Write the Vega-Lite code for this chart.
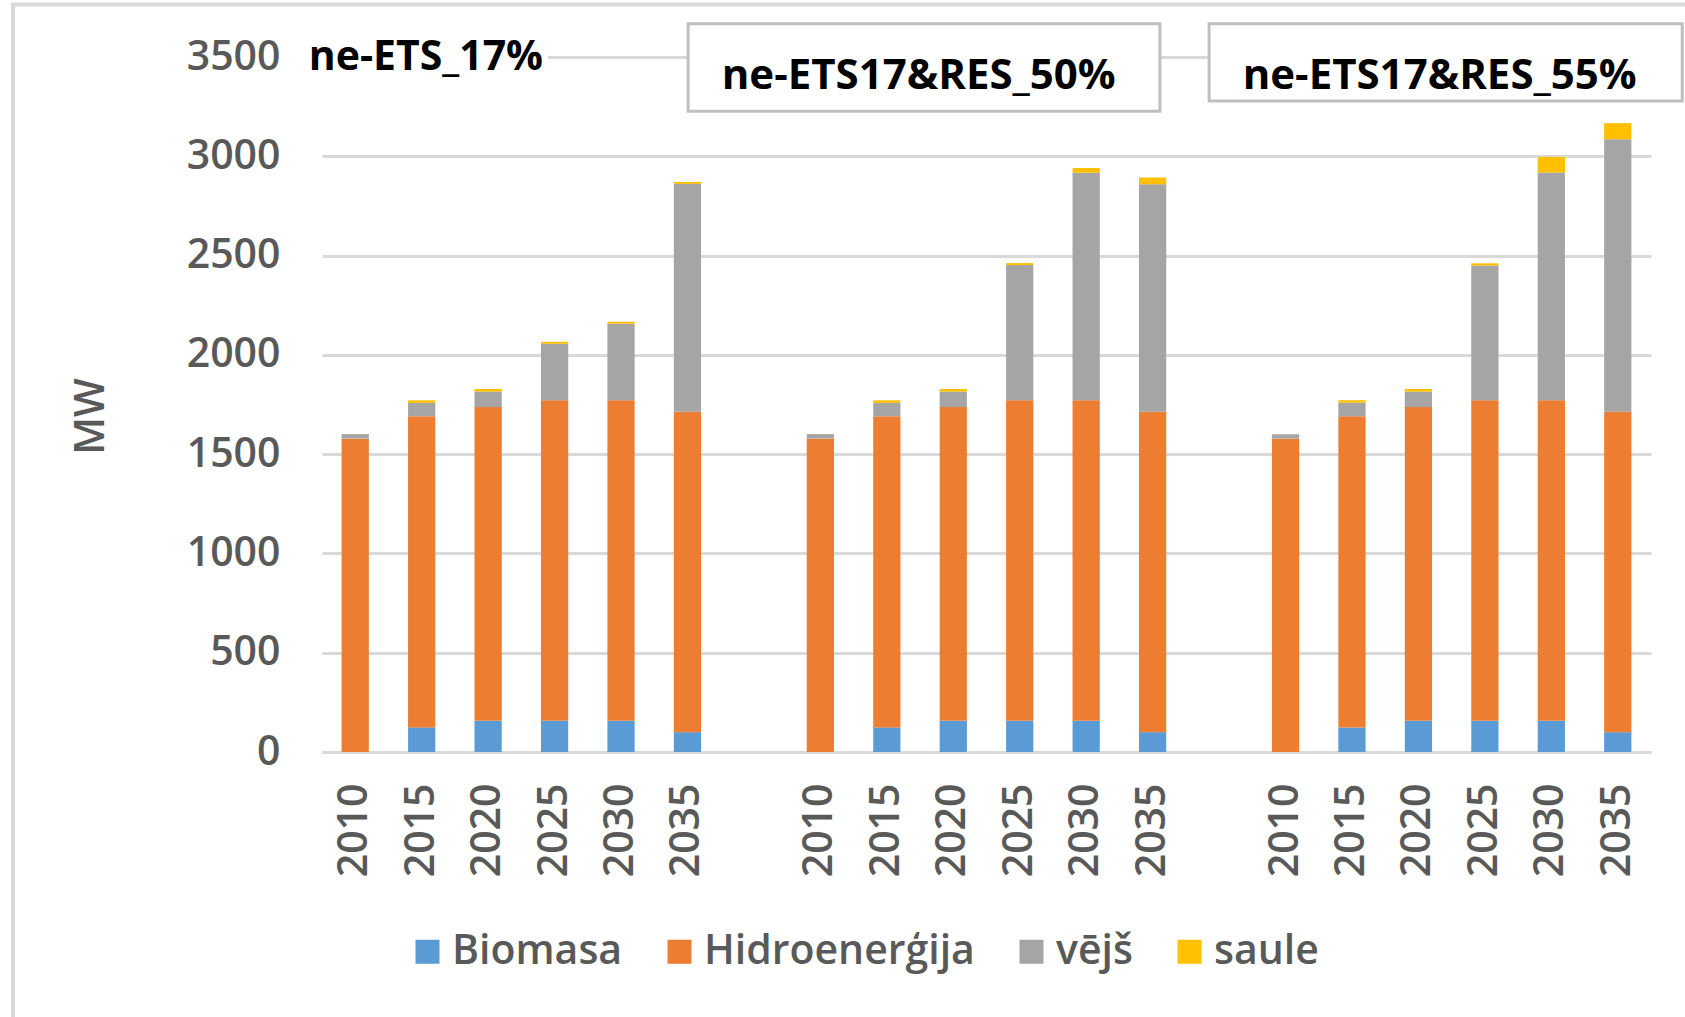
{
  "$schema": "https://vega.github.io/schema/vega-lite/v6.json",
  "width": 1329,
  "height": 695,
  "autosize": {"type": "none"},
  "padding": {"left": 322, "top": 57, "right": 34, "bottom": 265},
  "background": "white",
  "config": {"view": {"stroke": null}, "font": "Open Sans"},
  "resolve": {"scale": {"x": "independent"}},
  "encoding": {
    "y": {
      "field": "mw",
      "type": "quantitative",
      "scale": {"domain": [0, 3500], "nice": false},
      "axis": {
        "title": "MW",
        "format": "d",
        "values": [0, 500, 1000, 1500, 2000, 2500, 3000, 3500],
        "grid": true,
        "gridColor": "#d9d9d9",
        "gridWidth": 3,
        "domain": false,
        "ticks": false,
        "labelFontSize": 41,
        "labelFontWeight": 600,
        "labelColor": "#595959",
        "labelPadding": 42,
        "titleFontSize": 41,
        "titleColor": "#595959",
        "titleFontWeight": 600,
        "titleX": -231,
        "titleY": 359,
        "titleAngle": -90,
        "titleAlign": "center",
        "titleBaseline": "middle"
      }
    }
  },
  "layer": [
    {
      "data": {"values": [{"x1": -4.65, "x2": 21.5, "mw": 3765, "mw2": -1600}]},
      "mark": {"type": "rect", "fill": null, "stroke": "#d9d9d9", "strokeWidth": 4},
      "encoding": {
        "x": {"field": "x1", "type": "quantitative", "scale": {"domain": [0, 20], "nice": false, "zero": false}, "axis": null},
        "x2": {"field": "x2"},
        "y2": {"field": "mw2"}
      }
    },
    {
      "data": {"values": [
        {"scen": "ne-ETS_17%", "year": "2010", "src": "Biomasa", "mw": 0},
        {"scen": "ne-ETS_17%", "year": "2010", "src": "Hidroenerģija", "mw": 1578},
        {"scen": "ne-ETS_17%", "year": "2010", "src": "vējš", "mw": 23},
        {"scen": "ne-ETS_17%", "year": "2010", "src": "saule", "mw": 0},
        {"scen": "ne-ETS_17%", "year": "2015", "src": "Biomasa", "mw": 124},
        {"scen": "ne-ETS_17%", "year": "2015", "src": "Hidroenerģija", "mw": 1567},
        {"scen": "ne-ETS_17%", "year": "2015", "src": "vējš", "mw": 67},
        {"scen": "ne-ETS_17%", "year": "2015", "src": "saule", "mw": 13},
        {"scen": "ne-ETS_17%", "year": "2020", "src": "Biomasa", "mw": 157},
        {"scen": "ne-ETS_17%", "year": "2020", "src": "Hidroenerģija", "mw": 1580},
        {"scen": "ne-ETS_17%", "year": "2020", "src": "vējš", "mw": 78},
        {"scen": "ne-ETS_17%", "year": "2020", "src": "saule", "mw": 13},
        {"scen": "ne-ETS_17%", "year": "2025", "src": "Biomasa", "mw": 157},
        {"scen": "ne-ETS_17%", "year": "2025", "src": "Hidroenerģija", "mw": 1614},
        {"scen": "ne-ETS_17%", "year": "2025", "src": "vējš", "mw": 285},
        {"scen": "ne-ETS_17%", "year": "2025", "src": "saule", "mw": 10},
        {"scen": "ne-ETS_17%", "year": "2030", "src": "Biomasa", "mw": 157},
        {"scen": "ne-ETS_17%", "year": "2030", "src": "Hidroenerģija", "mw": 1614},
        {"scen": "ne-ETS_17%", "year": "2030", "src": "vējš", "mw": 386},
        {"scen": "ne-ETS_17%", "year": "2030", "src": "saule", "mw": 10},
        {"scen": "ne-ETS_17%", "year": "2035", "src": "Biomasa", "mw": 100},
        {"scen": "ne-ETS_17%", "year": "2035", "src": "Hidroenerģija", "mw": 1613},
        {"scen": "ne-ETS_17%", "year": "2035", "src": "vējš", "mw": 1148},
        {"scen": "ne-ETS_17%", "year": "2035", "src": "saule", "mw": 10},
        {"scen": "ne-ETS17&RES_50%", "year": "2010", "src": "Biomasa", "mw": 0},
        {"scen": "ne-ETS17&RES_50%", "year": "2010", "src": "Hidroenerģija", "mw": 1578},
        {"scen": "ne-ETS17&RES_50%", "year": "2010", "src": "vējš", "mw": 23},
        {"scen": "ne-ETS17&RES_50%", "year": "2010", "src": "saule", "mw": 0},
        {"scen": "ne-ETS17&RES_50%", "year": "2015", "src": "Biomasa", "mw": 124},
        {"scen": "ne-ETS17&RES_50%", "year": "2015", "src": "Hidroenerģija", "mw": 1567},
        {"scen": "ne-ETS17&RES_50%", "year": "2015", "src": "vējš", "mw": 67},
        {"scen": "ne-ETS17&RES_50%", "year": "2015", "src": "saule", "mw": 13},
        {"scen": "ne-ETS17&RES_50%", "year": "2020", "src": "Biomasa", "mw": 157},
        {"scen": "ne-ETS17&RES_50%", "year": "2020", "src": "Hidroenerģija", "mw": 1580},
        {"scen": "ne-ETS17&RES_50%", "year": "2020", "src": "vējš", "mw": 78},
        {"scen": "ne-ETS17&RES_50%", "year": "2020", "src": "saule", "mw": 13},
        {"scen": "ne-ETS17&RES_50%", "year": "2025", "src": "Biomasa", "mw": 157},
        {"scen": "ne-ETS17&RES_50%", "year": "2025", "src": "Hidroenerģija", "mw": 1614},
        {"scen": "ne-ETS17&RES_50%", "year": "2025", "src": "vējš", "mw": 681},
        {"scen": "ne-ETS17&RES_50%", "year": "2025", "src": "saule", "mw": 10},
        {"scen": "ne-ETS17&RES_50%", "year": "2030", "src": "Biomasa", "mw": 157},
        {"scen": "ne-ETS17&RES_50%", "year": "2030", "src": "Hidroenerģija", "mw": 1614},
        {"scen": "ne-ETS17&RES_50%", "year": "2030", "src": "vējš", "mw": 1146},
        {"scen": "ne-ETS17&RES_50%", "year": "2030", "src": "saule", "mw": 24},
        {"scen": "ne-ETS17&RES_50%", "year": "2035", "src": "Biomasa", "mw": 100},
        {"scen": "ne-ETS17&RES_50%", "year": "2035", "src": "Hidroenerģija", "mw": 1613},
        {"scen": "ne-ETS17&RES_50%", "year": "2035", "src": "vējš", "mw": 1146},
        {"scen": "ne-ETS17&RES_50%", "year": "2035", "src": "saule", "mw": 34},
        {"scen": "ne-ETS17&RES_55%", "year": "2010", "src": "Biomasa", "mw": 0},
        {"scen": "ne-ETS17&RES_55%", "year": "2010", "src": "Hidroenerģija", "mw": 1578},
        {"scen": "ne-ETS17&RES_55%", "year": "2010", "src": "vējš", "mw": 22},
        {"scen": "ne-ETS17&RES_55%", "year": "2010", "src": "saule", "mw": 0},
        {"scen": "ne-ETS17&RES_55%", "year": "2015", "src": "Biomasa", "mw": 124},
        {"scen": "ne-ETS17&RES_55%", "year": "2015", "src": "Hidroenerģija", "mw": 1567},
        {"scen": "ne-ETS17&RES_55%", "year": "2015", "src": "vējš", "mw": 68},
        {"scen": "ne-ETS17&RES_55%", "year": "2015", "src": "saule", "mw": 13},
        {"scen": "ne-ETS17&RES_55%", "year": "2020", "src": "Biomasa", "mw": 157},
        {"scen": "ne-ETS17&RES_55%", "year": "2020", "src": "Hidroenerģija", "mw": 1580},
        {"scen": "ne-ETS17&RES_55%", "year": "2020", "src": "vējš", "mw": 78},
        {"scen": "ne-ETS17&RES_55%", "year": "2020", "src": "saule", "mw": 13},
        {"scen": "ne-ETS17&RES_55%", "year": "2025", "src": "Biomasa", "mw": 157},
        {"scen": "ne-ETS17&RES_55%", "year": "2025", "src": "Hidroenerģija", "mw": 1614},
        {"scen": "ne-ETS17&RES_55%", "year": "2025", "src": "vējš", "mw": 679},
        {"scen": "ne-ETS17&RES_55%", "year": "2025", "src": "saule", "mw": 11},
        {"scen": "ne-ETS17&RES_55%", "year": "2030", "src": "Biomasa", "mw": 157},
        {"scen": "ne-ETS17&RES_55%", "year": "2030", "src": "Hidroenerģija", "mw": 1614},
        {"scen": "ne-ETS17&RES_55%", "year": "2030", "src": "vējš", "mw": 1147},
        {"scen": "ne-ETS17&RES_55%", "year": "2030", "src": "saule", "mw": 79},
        {"scen": "ne-ETS17&RES_55%", "year": "2035", "src": "Biomasa", "mw": 100},
        {"scen": "ne-ETS17&RES_55%", "year": "2035", "src": "Hidroenerģija", "mw": 1613},
        {"scen": "ne-ETS17&RES_55%", "year": "2035", "src": "vējš", "mw": 1373},
        {"scen": "ne-ETS17&RES_55%", "year": "2035", "src": "saule", "mw": 81}
      ]},
      "transform": [
        {"calculate": "datum.scen + '|' + datum.year", "as": "key"},
        {"calculate": "indexof(['Biomasa','Hidroenerģija','vējš','saule'], datum.src)", "as": "ord"}
      ],
      "mark": {"type": "bar"},
      "encoding": {
        "x": {
          "field": "key",
          "type": "nominal",
          "sort": null,
          "scale": {
            "domain": [
              "ne-ETS_17%|2010", "ne-ETS_17%|2015", "ne-ETS_17%|2020", "ne-ETS_17%|2025", "ne-ETS_17%|2030", "ne-ETS_17%|2035",
              "gap1",
              "ne-ETS17&RES_50%|2010", "ne-ETS17&RES_50%|2015", "ne-ETS17&RES_50%|2020", "ne-ETS17&RES_50%|2025", "ne-ETS17&RES_50%|2030", "ne-ETS17&RES_50%|2035",
              "gap2",
              "ne-ETS17&RES_55%|2010", "ne-ETS17&RES_55%|2015", "ne-ETS17&RES_55%|2020", "ne-ETS17&RES_55%|2025", "ne-ETS17&RES_55%|2030", "ne-ETS17&RES_55%|2035"
            ],
            "paddingInner": 0.59,
            "paddingOuter": 0.295
          },
          "axis": {
            "title": null,
            "labelExpr": "indexof(datum.value, '|') > 0 ? slice(datum.value, -4) : ''",
            "labelAngle": -90,
            "labelAlign": "right",
            "labelBaseline": "middle",
            "labelFontSize": 41,
            "labelFontWeight": 600,
            "labelColor": "#595959",
            "labelPadding": 31,
            "ticks": false,
            "grid": false,
            "domain": true,
            "domainColor": "#d9d9d9",
            "domainWidth": 3
          }
        },
        "color": {
          "field": "src",
          "type": "nominal",
          "scale": {
            "domain": ["Biomasa", "Hidroenerģija", "vējš", "saule"],
            "range": ["#5b9bd5", "#ed7d31", "#a5a5a5", "#ffc000"]
          },
          "legend": {
            "title": null,
            "orient": "none",
            "direction": "horizontal",
            "legendX": 85,
            "legendY": 874,
            "padding": 0,
            "symbolType": "square",
            "symbolSize": 576,
            "symbolStrokeWidth": 0,
            "labelFontSize": 41,
            "labelFontWeight": 600,
            "labelColor": "#595959",
            "labelOffset": 4,
            "labelLimit": 0,
            "columnPadding": 36
          }
        },
        "order": {"field": "ord", "type": "quantitative"}
      }
    },
    {
      "data": {"values": [{"x1": -0.35, "x2": 3.4, "mw": 3640, "mw2": 3380}]},
      "mark": {"type": "rect", "fill": "white", "stroke": null},
      "encoding": {
        "x": {"field": "x1", "type": "quantitative", "scale": {"domain": [0, 20], "nice": false, "zero": false}, "axis": null},
        "x2": {"field": "x2"},
        "y2": {"field": "mw2"}
      }
    },
    {
      "data": {"values": [
        {"x1": 5.51, "x2": 12.61, "mw": 3667, "mw2": 3227},
        {"x1": 13.35, "x2": 20.47, "mw": 3667, "mw2": 3278}
      ]},
      "mark": {"type": "rect", "fill": "white", "stroke": "#bfbfbf", "strokeWidth": 3},
      "encoding": {
        "x": {"field": "x1", "type": "quantitative", "scale": {"domain": [0, 20], "nice": false, "zero": false}, "axis": null},
        "x2": {"field": "x2"},
        "y2": {"field": "mw2"}
      }
    },
    {
      "data": {"values": [{"x": -0.2, "mw": 3495, "label": "ne-ETS_17%"}]},
      "mark": {"type": "text", "align": "left", "baseline": "middle", "fontSize": 41, "fontWeight": "bold", "color": "black"},
      "encoding": {
        "x": {"field": "x", "type": "quantitative", "scale": {"domain": [0, 20], "nice": false, "zero": false}, "axis": null},
        "text": {"field": "label"}
      }
    },
    {
      "data": {"values": [
        {"x": 8.98, "mw": 3402, "label": "ne-ETS17&RES_50%"},
        {"x": 16.82, "mw": 3402, "label": "ne-ETS17&RES_55%"}
      ]},
      "mark": {"type": "text", "align": "center", "baseline": "middle", "fontSize": 42, "fontWeight": "bold", "color": "black"},
      "encoding": {
        "x": {"field": "x", "type": "quantitative", "scale": {"domain": [0, 20], "nice": false, "zero": false}, "axis": null},
        "text": {"field": "label"}
      }
    }
  ]
}
